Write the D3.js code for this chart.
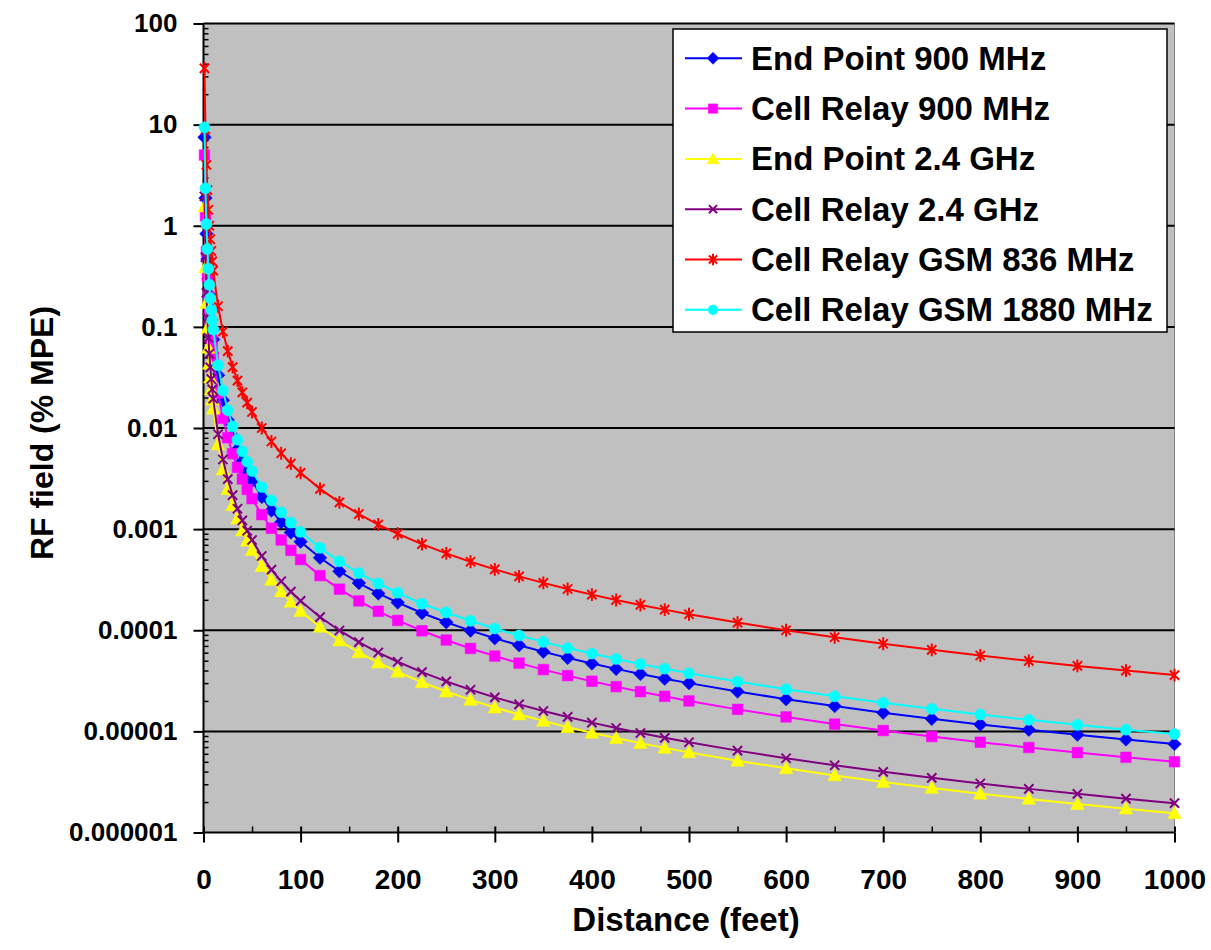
<!DOCTYPE html>
<html>
<head>
<meta charset="utf-8">
<script src="https://cdn.jsdelivr.net/npm/d3@7"></script>
<style>
  body { margin: 0; background: #ffffff; }
  svg { display: block; }
  text { font-family: "Liberation Sans", Arial, sans-serif; }
</style>
</head>
<body>
<svg id="chart" width="1211" height="950"></svg>
<script>
// ---------------- DATA ----------------
const distanceFeet = [1,2,3,4,5,6,7,8,9,10,15,20,25,30,35,40,45,50,60,70,80,90,100,120,140,160,180,200,225,250,275,300,325,350,375,400,425,450,475,500,550,600,650,700,750,800,850,900,950,1000];

const endPoint900 = [7.5,1.88,0.833,0.469,0.3,0.208,0.153,0.117,0.0926,0.075,0.0333,0.0188,0.012,0.00833,0.00612,0.00469,0.0037,0.003,0.00208,0.00153,0.00117,0.000926,0.00075,0.000521,0.000383,0.000293,0.000231,0.000188,0.000148,0.00012,0.0000992,0.0000833,0.000071,0.0000612,0.0000533,0.0000469,0.0000415,0.000037,0.0000332,0.00003,0.0000248,0.0000208,0.0000178,0.0000153,0.0000133,0.0000117,0.0000104,0.00000926,0.00000831,0.0000075];

const cellRelay900 = [5.0,1.25,0.556,0.313,0.2,0.139,0.102,0.0781,0.0617,0.05,0.0222,0.0125,0.008,0.00556,0.00408,0.00313,0.00247,0.002,0.00139,0.00102,0.000781,0.000617,0.0005,0.000347,0.000255,0.000195,0.000154,0.000125,0.0000988,0.00008,0.0000661,0.0000556,0.0000473,0.0000408,0.0000356,0.0000313,0.0000277,0.0000247,0.0000222,0.00002,0.0000165,0.0000139,0.0000118,0.0000102,0.00000889,0.00000781,0.00000692,0.00000617,0.00000554,0.000005];

const endPoint24 = [1.55,0.388,0.172,0.0969,0.062,0.0431,0.0316,0.0242,0.0191,0.0155,0.00689,0.00388,0.00248,0.00172,0.00127,0.000969,0.000765,0.00062,0.000431,0.000316,0.000242,0.000191,0.000155,0.000108,0.0000791,0.0000605,0.0000478,0.0000388,0.0000306,0.0000248,0.0000205,0.0000172,0.0000147,0.0000127,0.000011,0.00000969,0.00000858,0.00000765,0.00000687,0.0000062,0.00000512,0.00000431,0.00000367,0.00000316,0.00000276,0.00000242,0.00000215,0.00000191,0.00000172,0.00000155];

const cellRelay24 = [1.95,0.488,0.217,0.122,0.078,0.0542,0.0398,0.0305,0.0241,0.0195,0.00867,0.00488,0.00312,0.00217,0.00159,0.00122,0.000963,0.00078,0.000542,0.000398,0.000305,0.000241,0.000195,0.000135,0.0000995,0.0000762,0.0000602,0.0000488,0.0000385,0.0000312,0.0000258,0.0000217,0.0000185,0.0000159,0.0000139,0.0000122,0.0000108,0.00000963,0.00000864,0.0000078,0.00000645,0.00000542,0.00000462,0.00000398,0.00000347,0.00000305,0.0000027,0.00000241,0.00000216,0.00000195];

const cellRelayGsm836 = [36,9,4,2.25,1.44,1,0.735,0.563,0.444,0.36,0.16,0.09,0.0576,0.04,0.0294,0.0225,0.0178,0.0144,0.01,0.00735,0.00563,0.00444,0.0036,0.0025,0.00184,0.00141,0.00111,0.0009,0.000711,0.000576,0.000476,0.0004,0.000341,0.000294,0.000256,0.000225,0.000199,0.000178,0.00016,0.000144,0.000119,0.0001,0.0000852,0.0000735,0.000064,0.0000563,0.0000498,0.0000444,0.0000399,0.000036];

const cellRelayGsm1880 = [9.4,2.35,1.04,0.588,0.376,0.261,0.192,0.147,0.116,0.094,0.0418,0.0235,0.015,0.0104,0.00767,0.00588,0.00464,0.00376,0.00261,0.00192,0.00147,0.00116,0.00094,0.000653,0.00048,0.000367,0.00029,0.000235,0.000183,0.00015,0.000124,0.000104,0.0000889,0.0000767,0.0000668,0.0000588,0.000052,0.0000464,0.0000417,0.0000376,0.0000311,0.0000261,0.0000222,0.0000192,0.0000167,0.0000147,0.000013,0.0000116,0.0000104,0.0000094];

const seriesNames = ["End Point 900 MHz","Cell Relay 900 MHz","End Point 2.4 GHz","Cell Relay 2.4 GHz","Cell Relay GSM 836 MHz","Cell Relay GSM 1880 MHz"];

const yTickValues = [100,10,1,0.1,0.01,0.001,0.0001,0.00001,0.000001];
const yTickLabels = ["100","10","1","0.1","0.01","0.001","0.0001","0.00001","0.000001"];
const xTickValues = [0,100,200,300,400,500,600,700,800,900,1000];
const xTickLabels = ["0","100","200","300","400","500","600","700","800","900","1000"];
const xMinorTickValues = [50,150,250,350,450,550,650,750,850,950];

const xTitle = "Distance (feet)";
const yTitle = "RF field (% MPE)";

// ---------------- STYLE / LAYOUT ----------------
const seriesStyle = [
  { color: "#0000ff", marker: "diamond" },
  { color: "#ff00ff", marker: "square" },
  { color: "#ffff00", marker: "triangle" },
  { color: "#800080", marker: "cross" },
  { color: "#ff0000", marker: "star" },
  { color: "#00ffff", marker: "circle" }
];
const seriesValues = [endPoint900, cellRelay900, endPoint24, cellRelay24, cellRelayGsm836, cellRelayGsm1880];
const series = seriesNames.map((name, i) => ({
  name,
  color: seriesStyle[i].color,
  marker: seriesStyle[i].marker,
  points: distanceFeet.map((d, j) => ({ x: d, y: seriesValues[i][j] }))
}));

const plot = { left: 203.5, right: 1174.5, top: 23.5, bottom: 832.5 };

const svg = d3.select("#chart");
svg.append("rect").attr("width", 1211).attr("height", 950).attr("fill", "#ffffff");

const x = d3.scaleLinear().domain([0, 1000]).range([plot.left, plot.right]);
const y = d3.scaleLog().domain([0.000001, 100]).range([plot.bottom, plot.top]);

// plot background
svg.append("rect")
  .attr("x", plot.left).attr("y", plot.top)
  .attr("width", plot.right - plot.left).attr("height", plot.bottom - plot.top)
  .attr("fill", "#c0c0c0").attr("stroke", "#808080").attr("stroke-width", 1);

// gridlines
svg.append("g").selectAll("line").data(yTickValues.filter(v => v > 0.000001)).join("line")
  .attr("x1", plot.left).attr("x2", plot.right)
  .attr("y1", d => y(d)).attr("y2", d => y(d))
  .attr("stroke", "#000").attr("stroke-width", 2);

// minor y ticks
const yMinor = [];
for (let k = -6; k < 2; k++) for (let m = 2; m <= 9; m++) yMinor.push(m * Math.pow(10, k));

const yAxisMinor = svg.append("g").attr("transform", `translate(${plot.left},0)`)
  .call(d3.axisLeft(y).tickValues(yMinor).tickSize(-5).tickFormat(""));
yAxisMinor.select(".domain").remove();
yAxisMinor.selectAll("line").attr("stroke", "#000").attr("stroke-width", 1.5);

const yAxis = svg.append("g").attr("transform", `translate(${plot.left},0)`)
  .call(d3.axisLeft(y).tickValues(yTickValues).tickSize(10).tickPadding(16)
    .tickFormat((d, i) => yTickLabels[i]));
yAxis.select(".domain").remove();
yAxis.selectAll("line").attr("stroke", "#000").attr("stroke-width", 2);
yAxis.selectAll("text").attr("font-size", 26).attr("font-weight", "bold")
  .attr("fill", "#000").attr("font-family", "Liberation Sans, Arial, sans-serif");

// x axis ticks
const xAxisMinor = svg.append("g").attr("transform", `translate(0,${plot.bottom})`)
  .call(d3.axisBottom(x).tickValues(xMinorTickValues).tickSize(-6).tickFormat(""));
xAxisMinor.select(".domain").remove();
xAxisMinor.selectAll("line").attr("stroke", "#000").attr("stroke-width", 1.5);

const xAxisInner = svg.append("g").attr("transform", `translate(0,${plot.bottom})`)
  .call(d3.axisBottom(x).tickValues(xTickValues).tickSize(-6).tickFormat(""));
xAxisInner.select(".domain").remove();
xAxisInner.selectAll("line").attr("stroke", "#000").attr("stroke-width", 2);

const xAxis = svg.append("g").attr("transform", `translate(0,${plot.bottom})`)
  .call(d3.axisBottom(x).tickValues(xTickValues).tickSize(10).tickPadding(27)
    .tickFormat((d, i) => xTickLabels[i]));
xAxis.select(".domain").remove();
xAxis.selectAll("line").attr("stroke", "#000").attr("stroke-width", 2);
xAxis.selectAll("text").attr("font-size", 28).attr("font-weight", "bold")
  .attr("fill", "#000").attr("font-family", "Liberation Sans, Arial, sans-serif");

// axis lines
svg.append("line").attr("x1", plot.left).attr("x2", plot.left)
  .attr("y1", plot.top).attr("y2", plot.bottom + 1).attr("stroke", "#000").attr("stroke-width", 2);
svg.append("line").attr("x1", plot.left - 1).attr("x2", plot.right)
  .attr("y1", plot.bottom).attr("y2", plot.bottom).attr("stroke", "#000").attr("stroke-width", 2);

// marker path generator
function markerPath(type, s) {
  switch (type) {
    case "diamond": return `M0,${-s}L${s},0L0,${s}L${-s},0Z`;
    case "square": { const h = s * 0.78; return `M${-h},${-h}H${h}V${h}H${-h}Z`; }
    case "triangle": return `M0,${-s}L${s},${s * 0.8}L${-s},${s * 0.8}Z`;
    case "cross": { const h = s * 0.68; return `M${-h},${-h}L${h},${h}M${-h},${h}L${h},${-h}`; }
    case "star": { const h = s * 0.68; return `M${-h},${-h}L${h},${h}M${-h},${h}L${h},${-h}M0,${-s * 0.95}L0,${s * 0.95}`; }
    case "circle": { const r = s * 0.82; return `M${r},0A${r},${r} 0 1,1 ${-r},0A${r},${r} 0 1,1 ${r},0Z`; }
  }
}
function isStroked(type) { return type === "cross" || type === "star"; }

// clip
svg.append("clipPath").attr("id", "plotClip").append("rect")
  .attr("x", plot.left - 8).attr("y", plot.top - 8)
  .attr("width", plot.right - plot.left + 16).attr("height", plot.bottom - plot.top + 16);

const line = d3.line().x(d => x(d.x)).y(d => y(d.y));

const seriesG = svg.append("g").attr("clip-path", "url(#plotClip)");
series.forEach(s => {
  const g = seriesG.append("g");
  g.append("path").datum(s.points)
    .attr("d", line).attr("fill", "none")
    .attr("stroke", s.color).attr("stroke-width", 2);
  g.selectAll("path.mk").data(s.points).join("path").attr("class", "mk")
    .attr("transform", d => `translate(${x(d.x)},${y(d.y)})`)
    .attr("d", markerPath(s.marker, 6.8))
    .attr("fill", isStroked(s.marker) ? "none" : s.color)
    .attr("stroke", s.color)
    .attr("stroke-width", isStroked(s.marker) ? 2 : 0.5);
});

// axis titles
svg.append("text").attr("x", 686).attr("y", 931)
  .attr("text-anchor", "middle").attr("font-size", 33).attr("font-weight", "bold")
  .attr("fill", "#000").text(xTitle);
svg.append("text").attr("transform", "translate(53,433) rotate(-90)")
  .attr("text-anchor", "middle").attr("font-size", 32).attr("font-weight", "bold")
  .attr("fill", "#000").text(yTitle);

// legend
const legend = { x: 673, y: 29, w: 494, h: 303, rowY0: 58.3, rowStep: 50.3 };
svg.append("rect").attr("x", legend.x).attr("y", legend.y)
  .attr("width", legend.w).attr("height", legend.h)
  .attr("fill", "#ffffff").attr("stroke", "#000").attr("stroke-width", 1.5);
const lg = svg.append("g").selectAll("g").data(series).join("g")
  .attr("transform", (d, i) => `translate(0,${legend.rowY0 + i * legend.rowStep})`);
lg.append("line").attr("x1", 685).attr("x2", 742).attr("y1", 0).attr("y2", 0)
  .attr("stroke", d => d.color).attr("stroke-width", 2);
lg.append("path").attr("transform", "translate(713,0)")
  .attr("d", d => markerPath(d.marker, 6))
  .attr("fill", d => isStroked(d.marker) ? "none" : d.color)
  .attr("stroke", d => d.color)
  .attr("stroke-width", d => isStroked(d.marker) ? 2 : 0.5);
lg.append("text").attr("x", 751).attr("y", 0).attr("dy", "0.35em")
  .attr("font-size", 33).attr("font-weight", "bold").attr("fill", "#000")
  .text(d => d.name);
</script>
</body>
</html>
